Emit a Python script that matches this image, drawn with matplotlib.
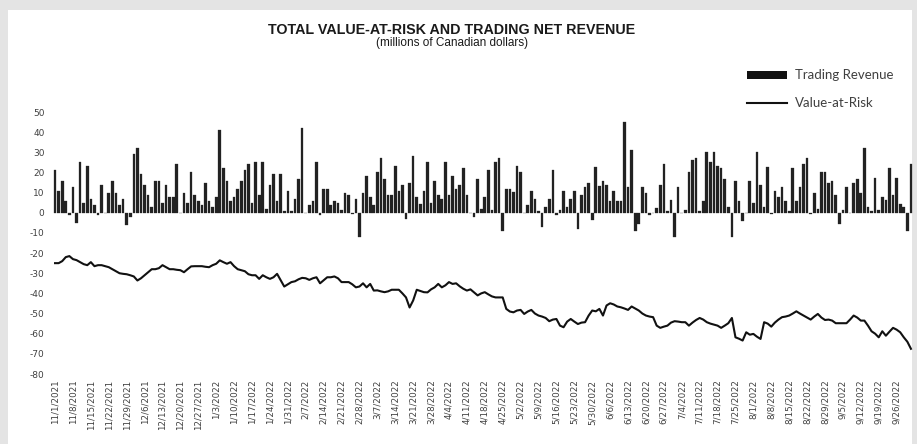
import datetime as dt
import matplotlib
matplotlib.use("Agg")
import matplotlib.pyplot as plt
from matplotlib.patches import Rectangle

title = "TOTAL VALUE-AT-RISK AND TRADING NET REVENUE"
subtitle = "(millions of Canadian dollars)"
start_date = dt.date(2021, 11, 1)
n_days = 240

trading_revenue = [
    21, 11, 16, 6, -1, 13, -5, 25, 5, 23, 7, 4, -1, 14, 0, 10, 16, 10, 4, 7,
    -6, -2, 29, 32, 19, 14, 9, 3, 16, 16, 5, 14, 8, 8, 24, 0, 10, 5, 20, 9,
    6, 4, 15, 6, 3, 8, 41, 22, 16, 6, 8, 12, 16, 21, 24, 5, 25, 9, 25, 2,
    14, 19, 6, 19, 1, 11, 1, 7, 17, 42, 0, 4, 6, 25, -1, 12, 12, 4, 6, 5,
    1.5, 10, 9, -0.5, 7, -12, 10, 18, 8, 4, 20, 27, 17, 9, 9, 23, 11, 14, -3, 15,
    28, 8, 4.5, 11, 25, 5, 16, 9, 7, 25, 9, 18, 12, 14, 22, 9, 0, -2, 17, 2,
    8, 21, 1.5, 25, 27, -9, 12, 12, 10.5, 23, 20, 0, 4, 11, 7, 1, -7, 3, 7, 21,
    -1, 1.5, 11, 3, 7, 11, -8, 9, 13, 15, -3.5, 22.5, 13.5, 16, 14, 6, 10.7, 6, 6, 45,
    13, 31, -9, -5.5, 13, 10, -1, 0, 2.5, 14, 24, 1, 6.5, -12, 13, 0, 1.5, 20, 26, 27,
    1, 6, 30, 25, 30, 23, 22, 17, 3, -12, 16, 6, -4, 0, 16, 5, 30, 14, 3, 22.5,
    -0.5, 11, 8, 13, 6, 1, 22, 6, 13, 24, 27, -0.5, 10, 2, 20, 20, 15, 16, 9, -5.5,
    1.5, 13, 0, 15, 17, 10, 32, 3, 1, 17.5, 1.5, 8, 6.5, 22, 9, 17.5, 4.5, 3, -9, 24,
]

value_at_risk = [
    -25, -25, -24, -22, -21.5, -23, -23.5, -24.5, -25.5, -26, -24.5, -26.5, -26, -26, -26.5, -27, -28, -29, -30, -30.3,
    -30.5, -31, -31.6, -33.6, -32.5, -31, -29.5, -28, -28, -27.5, -26, -27, -28, -28, -28.3, -28.5, -29.5, -28, -26.6, -26.5,
    -26.5, -26.5, -26.8, -27, -26, -25.3, -23.6, -24.5, -25.3, -24.5, -26.5, -28, -28.5, -29, -30.5, -31, -31, -32.8, -31, -32,
    -32.8, -32, -30.3, -33.5, -36.6, -35.5, -34.4, -34, -33, -32.3, -32.5, -33.3, -32.5, -32, -35, -33.5, -32, -32, -31.6, -32.5,
    -34.4, -34.4, -34.4, -35.5, -37, -36.6, -35, -37, -35.3, -38.6, -38.5, -39, -39.4, -39, -38.2, -38.2, -38.2, -40, -42, -47,
    -43.5, -38.2, -38.8, -39.4, -39.5, -38, -37, -35.3, -37, -36, -34.4, -35.3, -35, -36.5, -37.7, -38.6, -38, -39.5, -41, -40,
    -39.4, -40.5, -41.5, -42, -42, -42, -47.7, -49, -49.4, -48.5, -48.2, -50.2, -49, -48.2, -50, -51, -51.5, -52.2, -53.8, -53,
    -52.7, -56, -56.8, -54, -52.7, -54, -55.2, -54.5, -54.3, -51, -48.5, -48.9, -47.7, -51, -46, -44.9, -45.5, -46.5, -46.9, -47.5,
    -48.2, -46.5, -47.5, -48.5, -50, -51, -51.5, -51.8, -56, -57.1, -56.5, -56, -54.5, -53.8, -54, -54.3, -54.3, -56, -54.5, -53.2,
    -52.2, -53, -54.3, -55, -55.5, -56, -57.1, -56, -54.8, -52.2, -61.8, -62.5, -63.4, -59.3, -60.5, -60.1, -61.5, -62.6, -54.3, -55,
    -56.5, -54.5, -53, -51.8, -51.5, -51, -50, -48.9, -50, -51, -52, -53, -51.5, -50.2, -52, -53.2, -53, -53.5, -54.8, -54.8,
    -54.8, -54.8, -53, -51, -52, -53.5, -53.5, -56, -58.8, -60, -61.8, -58.8, -61, -59, -57.1, -58, -59.3, -61.8, -64, -67.5,
]

yticks = list(range(50, -90, -10))

# weekday dates and weekly (Monday) tick labels
dates = []
d = start_date
while len(dates) < n_days:
    if d.weekday() < 5:
        dates.append(d)
    d += dt.timedelta(days=1)
tick_pos = [i for i, dd in enumerate(dates) if dd.weekday() == 0]
tick_lab = [f"{dates[i].month}/{dates[i].day}/{dates[i].year}" for i in tick_pos]

W, H = 917, 444
fig = plt.figure(figsize=(W / 100, H / 100), dpi=100)
fig.patch.set_facecolor("#e4e4e4")
bg = Rectangle((8 / W, 0), (912 - 8) / W, (H - 10) / H,
               transform=fig.transFigure, facecolor="white",
               edgecolor="none", zorder=-5)
fig.patches.append(bg)

ax = fig.add_axes([52.9 / W, (H - 374) / H, (913.1 - 52.9) / W, (374 - 112) / H])
ax.set_zorder(3)
ax.set_facecolor("none")
x = list(range(n_days))
ax.bar(x, trading_revenue[:n_days], width=0.74, color="#222222",
       edgecolor="#222222", linewidth=0.2, label="Trading Revenue")
ax.plot(x, value_at_risk[:n_days], color="#111111", linewidth=1.5,
        label="Value-at-Risk")

ax.set_xlim(-0.6, n_days - 0.4)
ax.set_ylim(-80, 50)
ax.set_yticks(yticks)
ax.set_yticklabels([str(v) for v in yticks], fontsize=6.5, color="#404040",
                   family="DejaVu Sans")
ax.set_xticks(tick_pos)
ax.set_xticklabels(tick_lab, rotation=90, fontsize=6.3, color="#404040",
                   family="DejaVu Sans")
ax.tick_params(axis="both", length=0, pad=6)
ax.tick_params(axis="x", pad=4)
for s in ax.spines.values():
    s.set_visible(False)

fig.text(452 / W, 1 - 30 / H, title, ha="center", va="center",
         fontsize=10.3, fontweight="bold", family="Liberation Sans", color="#1a1a1a")
fig.text(452 / W, 1 - 43 / H, subtitle, ha="center", va="center",
         fontsize=8.5, family="Liberation Sans", color="#1a1a1a")

# legend
fig.patches.append(Rectangle((747 / W, 1 - 79 / H), 40 / W, 7.5 / H,
                             transform=fig.transFigure, facecolor="#111111",
                             edgecolor="none"))
fig.lines.append(plt.Line2D([747 / W, 787 / W], [1 - 103 / H, 1 - 103 / H],
                            transform=fig.transFigure, color="#111111", linewidth=1.5))
fig.text(795 / W, 1 - 75 / H, "Trading Revenue", ha="left", va="center",
         fontsize=9.5, family="Lato", color="#404040")
fig.text(795 / W, 1 - 103 / H, "Value-at-Risk", ha="left", va="center",
         fontsize=9.5, family="Lato", color="#404040")

fig.savefig("out.png", dpi=100, facecolor=fig.get_facecolor())
